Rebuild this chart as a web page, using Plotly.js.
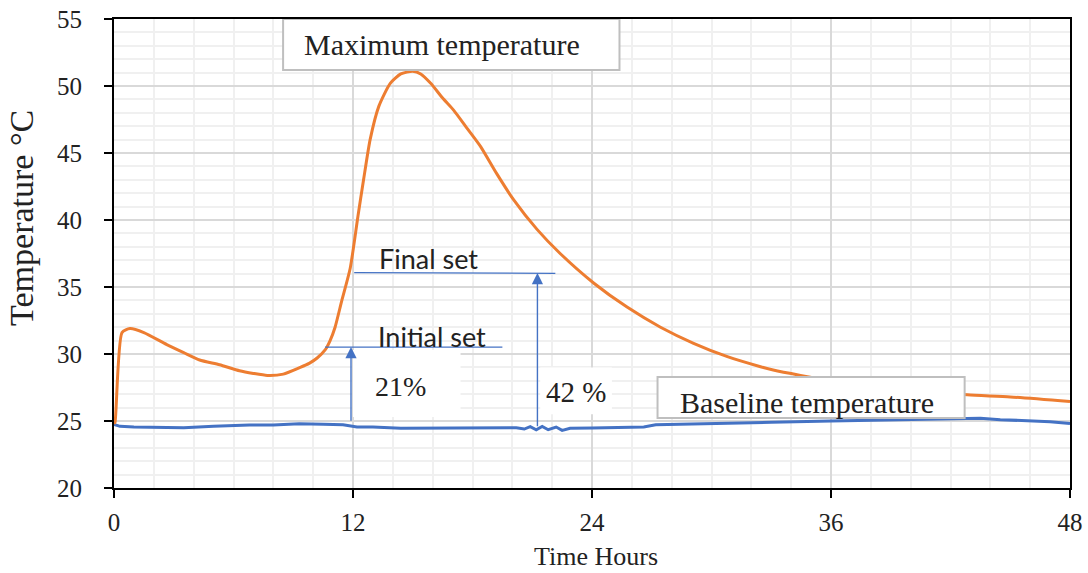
<!DOCTYPE html>
<html>
<head>
<meta charset="utf-8">
<script src="https://cdn.plot.ly/plotly-3.0.1.min.js"></script>
<style>html,body{margin:0;padding:0;background:#fff;}#chart{width:1088px;height:573px;}</style>
</head>
<body>
<div id="chart"></div>
<script>
// Orange series: maximum temperature curve (hours, °C)
const maxTimes = [0, 0.05, 0.4, 0.8, 1.5, 2.65, 3.5, 4.3, 5.3, 6.3, 7.0, 7.7, 8.5, 9.35, 9.8, 10.2, 10.6, 10.85, 11.1, 11.44, 11.86, 12.25, 12.53, 12.86, 13.3, 13.87, 14.4, 15.0, 15.4, 15.9, 16.5, 17.05, 17.7, 18.4, 19.2, 20.07, 21.24, 22.4, 24.08, 25.76, 27.44, 29.1, 30.8, 32.46, 33.1, 34.47, 36, 38, 40, 42.85, 45, 48];
const maxTemps = [24.8, 24.9, 31.6, 31.9, 31.6, 30.7, 30.1, 29.55, 29.2, 28.75, 28.55, 28.4, 28.5, 29.0, 29.3, 29.7, 30.3, 31.0, 32.0, 34.0, 36.4, 40.3, 43.0, 46.0, 48.5, 50.2, 50.9, 51.1, 50.9, 50.2, 49.1, 48.2, 46.9, 45.5, 43.5, 41.5, 39.3, 37.5, 35.3, 33.5, 32.0, 30.8, 29.8, 29.05, 28.8, 28.4, 28.0, 27.6, 27.3, 26.95, 26.8, 26.45];

// Blue series: baseline temperature (hours, °C)
const baseTimes = [0, 0.3, 1, 2.5, 3.5, 5, 6.8, 8, 9.3, 10.5, 11.5, 12.2, 13, 14.4, 16, 18, 19.5, 20.2, 20.6, 20.9, 21.2, 21.5, 21.8, 22.2, 22.5, 22.9, 24, 25.5, 26.6, 27.2, 28.5, 30, 33, 36, 38, 40, 42, 43.5, 44.5, 46, 47, 48];
const baseTemps = [24.75, 24.6, 24.55, 24.5, 24.5, 24.6, 24.7, 24.7, 24.8, 24.75, 24.72, 24.55, 24.55, 24.45, 24.45, 24.45, 24.5, 24.5, 24.4, 24.58, 24.35, 24.6, 24.35, 24.55, 24.3, 24.45, 24.48, 24.55, 24.55, 24.72, 24.75, 24.82, 24.9, 25.0, 25.05, 25.1, 25.15, 25.2, 25.1, 25.0, 24.95, 24.82];

const xTicks = [0, 12, 24, 36, 48];
const yTicks = [20, 25, 30, 35, 40, 45, 50, 55];

// Texts
const xTitle = "Time Hours";
const yTitle = "Temperature °C";
const labelMax = "Maximum temperature";
const labelBase = "Baseline temperature";
const labelFinal = "Final set";
const labelInitial = "Initial set";
const label21 = "21%";
const label42 = "42 %";

const BLUE = "#4472c4";
const ORANGE = "#ed7d31";
const SERIF = "Liberation Serif, Times New Roman, serif";
const SANS = "Lato, Carlito, Calibri, sans-serif";

const traces = [
  {x: baseTimes, y: baseTemps, type: "scatter", mode: "lines", line: {color: BLUE, width: 3}, hoverinfo: "skip"},
  {x: maxTimes, y: maxTemps, type: "scatter", mode: "lines", line: {color: ORANGE, width: 3, shape: "spline", smoothing: 0.6}, hoverinfo: "skip"}
];

const layout = {
  width: 1088, height: 573,
  margin: {l: 114, r: 18, t: 19, b: 85},
  paper_bgcolor: "#fff", plot_bgcolor: "#fff",
  showlegend: false,
  font: {family: SERIF, color: "#222", size: 24},
  xaxis: {
    range: [0, 48], tickvals: xTicks, ticktext: xTicks.map(String),
    showgrid: true, gridcolor: "#d9d9d9", gridwidth: 2,
    minor: {dtick: 2, showgrid: true, gridcolor: "#f0f0f0", gridwidth: 2, ticks: ""},
    showline: true, linecolor: "#000", linewidth: 2, mirror: true,
    ticks: "outside", ticklen: 8, tickwidth: 2, tickcolor: "#000",
    ticklabelstandoff: 3,
    zeroline: false,
    tickfont: {family: SERIF, size: 25, color: "#222"}
  },
  yaxis: {
    range: [20, 55], tickvals: yTicks, ticktext: yTicks.map(String),
    showgrid: true, gridcolor: "#d9d9d9", gridwidth: 2,
    minor: {dtick: 1, showgrid: true, gridcolor: "#f0f0f0", gridwidth: 2, ticks: ""},
    showline: true, linecolor: "#000", linewidth: 2, mirror: true,
    ticks: "outside", ticklen: 8, tickwidth: 2, tickcolor: "#000",
    ticklabelstandoff: 17,
    zeroline: false,
    tickfont: {family: SERIF, size: 25, color: "#222"}
  },
  shapes: [
    // Maximum temperature box
    {type: "rect", xref: "x", yref: "y", x0: 8.49, x1: 25.38, y0: 51.19, y1: 55, fillcolor: "#fff", line: {color: "#bfbfbf", width: 2}, layer: "above"},
    // Baseline temperature box
    {type: "rect", xref: "x", yref: "y", x0: 27.29, x1: 42.71, y0: 25.22, y1: 28.28, fillcolor: "#fff", line: {color: "#bfbfbf", width: 2}, layer: "above"},
    // white backgrounds of percentage labels
    {type: "rect", xref: "x", yref: "y", x0: 12.0, x1: 17.4, y0: 25.3, y1: 30.3, fillcolor: "#fff", line: {width: 0}, layer: "between"},
    {type: "rect", xref: "x", yref: "y", x0: 21.4, x1: 25.0, y0: 25.5, y1: 29.0, fillcolor: "#fff", line: {width: 0}, layer: "between"},
    // set lines
    {type: "line", xref: "x", yref: "y", x0: 10.6, x1: 19.5, y0: 30.52, y1: 30.52, line: {color: BLUE, width: 1.3}, layer: "above"},
    {type: "line", xref: "x", yref: "y", x0: 12.06, x1: 22.16, y0: 36.07, y1: 36.02, line: {color: BLUE, width: 1.3}, layer: "above"}
  ],
  annotations: [
    // axis titles
    {xref: "paper", yref: "paper", x: -0.0962, y: 0.576, text: yTitle, textangle: -90, showarrow: false, xanchor: "center", yanchor: "middle", font: {family: SERIF, size: 34, color: "#222"}},
    {xref: "paper", yref: "paper", x: 0.5047, y: -0.147, text: xTitle, showarrow: false, xanchor: "center", yanchor: "middle", font: {family: SERIF, size: 26, color: "#222"}},
    {xref: "x", yref: "y", x: 9.45, y: 53.13, text: labelMax, showarrow: false, xanchor: "left", yanchor: "middle", font: {family: SERIF, size: 30, color: "#222"}},
    {xref: "x", yref: "y", x: 28.3, y: 26.35, text: labelBase, showarrow: false, xanchor: "left", yanchor: "middle", font: {family: SERIF, size: 30, color: "#222"}},
    {xref: "x", yref: "y", x: 15.78, y: 37.16, text: labelFinal, showarrow: false, xanchor: "center", yanchor: "middle", font: {family: SANS, size: 27, color: "#222"}},
    {xref: "x", yref: "y", x: 15.95, y: 31.27, text: labelInitial, showarrow: false, xanchor: "center", yanchor: "middle", font: {family: SANS, size: 27, color: "#222"}},
    {xref: "x", yref: "y", x: 14.4, y: 27.54, text: label21, showarrow: false, xanchor: "center", yanchor: "middle", font: {family: SERIF, size: 28, color: "#222"}},
    {xref: "x", yref: "y", x: 23.2, y: 27.16, text: label42, showarrow: false, xanchor: "center", yanchor: "middle", font: {family: SERIF, size: 29, color: "#222"}},
    // arrows
    {xref: "x", yref: "y", axref: "x", ayref: "y", x: 11.9, y: 30.52, ax: 11.9, ay: 24.9, text: "", showarrow: true, arrowhead: 2, arrowsize: 1.6, arrowwidth: 1.4, arrowcolor: BLUE, standoff: 0, startstandoff: 0},
    {xref: "x", yref: "y", axref: "x", ayref: "y", x: 21.26, y: 36.04, ax: 21.26, ay: 24.5, text: "", showarrow: true, arrowhead: 2, arrowsize: 1.6, arrowwidth: 1.4, arrowcolor: BLUE, standoff: 0, startstandoff: 0}
  ]
};

Plotly.newPlot("chart", traces, layout, {displayModeBar: false, staticPlot: true});
</script>
</body>
</html>
